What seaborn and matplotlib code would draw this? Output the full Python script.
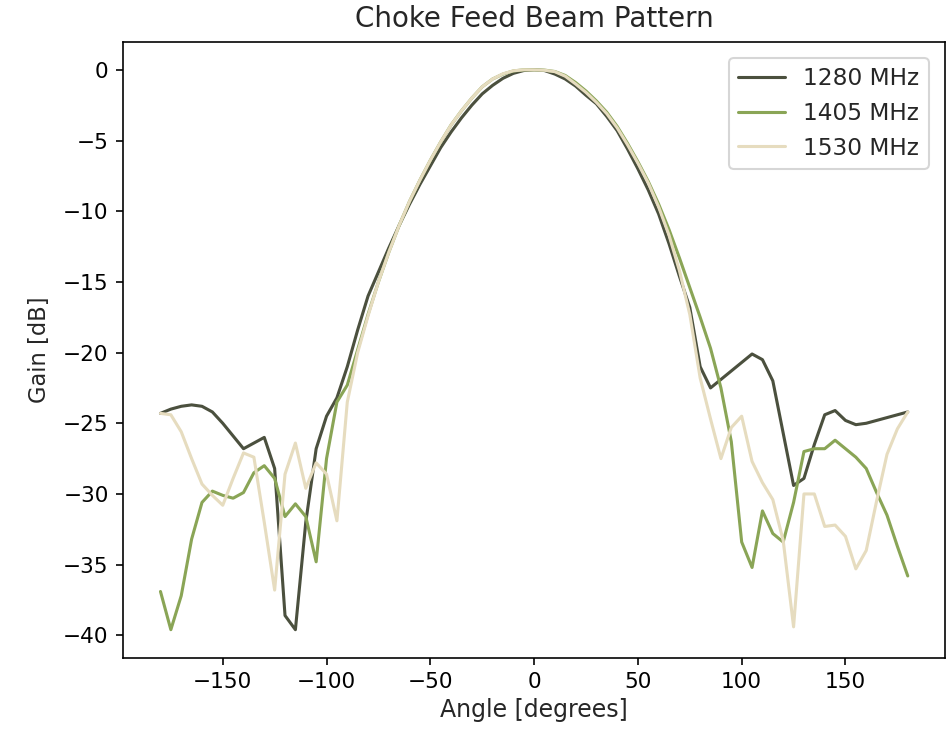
import matplotlib
matplotlib.use("Agg")
import matplotlib.pyplot as plt
import seaborn as sns
import pandas as pd

angles = list(range(-180, 181, 5))

gain_1280 = [
    -24.3, -24.0, -23.8, -23.7, -23.8, -24.2, -25.0, -25.9, -26.8, -26.4,
    -26.0, -28.2, -38.6, -39.6, -32.0, -26.8, -24.5, -23.2, -21.0, -18.4,
    -16.0, -14.3, -12.6, -11.0, -9.5, -8.1, -6.8, -5.5, -4.4, -3.4,
    -2.5, -1.7, -1.1, -0.6, -0.25, -0.05, 0.0, -0.05, -0.3, -0.65,
    -1.15, -1.8, -2.4, -3.3, -4.3, -5.6, -7.0, -8.5, -10.2, -12.3,
    -14.6, -16.8, -21.0, -22.5, -21.9, -21.3, -20.7, -20.1, -20.5, -22.0,
    -25.7, -29.4, -28.9, -26.5, -24.4, -24.1, -24.8, -25.1, -25.0, -24.8,
    -24.6, -24.4, -24.2,
]

gain_1405 = [
    -36.9, -39.6, -37.2, -33.2, -30.6, -29.8, -30.1, -30.3, -29.9, -28.5,
    -28.0, -28.9, -31.6, -30.7, -31.6, -34.8, -27.5, -23.5, -22.3, -19.8,
    -17.3, -15.0, -12.9, -11.0, -9.3, -7.8, -6.4, -5.1, -3.9, -2.9,
    -2.0, -1.2, -0.65, -0.3, -0.08, 0.0, 0.0, -0.02, -0.12, -0.4,
    -0.9, -1.5, -2.2, -3.0, -4.0, -5.2, -6.5, -7.9, -9.5, -11.3,
    -13.3, -15.4, -17.5, -19.7, -22.5, -26.3, -33.4, -35.2, -31.2, -32.8,
    -33.4, -30.6, -27.0, -26.8, -26.8, -26.2, -26.8, -27.4, -28.2, -29.9,
    -31.5, -33.7, -35.8,
]

gain_1530 = [
    -24.3, -24.4, -25.6, -27.5, -29.3, -30.1, -30.8, -28.9, -27.1, -27.4,
    -32.0, -36.8, -28.6, -26.4, -29.6, -27.8, -28.6, -31.9, -23.5, -20.0,
    -17.4, -15.0, -12.9, -11.0, -9.3, -7.8, -6.4, -5.1, -3.9, -2.9,
    -2.0, -1.2, -0.65, -0.28, -0.07, 0.0, 0.0, -0.03, -0.13, -0.45,
    -1.0, -1.6, -2.3, -3.1, -4.1, -5.3, -6.6, -8.0, -9.7, -11.7,
    -14.2, -17.3, -21.8, -24.7, -27.5, -25.3, -24.5, -27.7, -29.2, -30.4,
    -33.3, -39.4, -30.0, -30.0, -32.3, -32.2, -33.0, -35.3, -34.0, -30.5,
    -27.2, -25.4, -24.2,
]

series_labels = ["1280 MHz", "1405 MHz", "1530 MHz"]
colors = ["#4b503e", "#8aa556", "#e6dcbf"]

frames = []
for lab, vals in zip(series_labels, [gain_1280, gain_1405, gain_1530]):
    frames.append(pd.DataFrame({"Angle": angles, "Gain": vals, "Frequency": lab}))
df = pd.concat(frames, ignore_index=True)

sns.set_style("ticks")
plt.rcParams["font.family"] = ["DejaVu Sans"]
plt.rcParams["axes.edgecolor"] = "black"
plt.rcParams["xtick.color"] = "black"
plt.rcParams["ytick.color"] = "black"

fig = plt.figure(figsize=(947 / 148, 734 / 148), dpi=148)
ax = fig.add_axes([0.130, 0.104, 0.868, 0.839])

sns.lineplot(data=df, x="Angle", y="Gain", hue="Frequency",
             palette=dict(zip(series_labels, colors)), linewidth=1.5, ax=ax)

ax.set_title("Choke Feed Beam Pattern", fontsize=13.5, pad=7)
ax.set_xlabel("Angle [degrees]", fontsize=11.5, labelpad=3)
ax.set_ylabel("Gain [dB]", fontsize=11, labelpad=6)
ax.set_xticks([-150, -100, -50, 0, 50, 100, 150])
ax.set_yticks([0, -5, -10, -15, -20, -25, -30, -35, -40])
ax.tick_params(labelsize=10.5)

handles, labels = ax.get_legend_handles_labels()
ax.legend(handles, labels, loc="upper right", fontsize=11.3, frameon=True,
          borderaxespad=0.7)

fig.savefig("out.png", dpi=148)
